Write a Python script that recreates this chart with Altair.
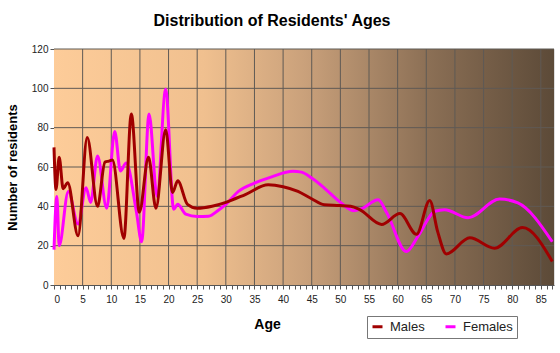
import altair as alt
import pandas as pd

# ---- data ----
male_age = [0, 0.35, 0.9, 1.6, 2.4, 4.2, 5.8, 7.6, 8.9, 9.6, 10.2, 12.2, 13.5, 14.9, 16.5, 17.8,
            19.5, 20.7, 21.6, 23.3, 25, 27.6, 30, 33.4, 37.4, 40, 42.6, 44.9, 47.2, 49.8, 51.8,
            53.3, 57.2, 60.4, 63.3, 65.6, 67, 68.5, 72.6, 76.9, 81.8, 87]
male_val = [70, 48.6, 65, 49, 52, 25, 75, 40, 62.5, 63, 63.5, 23.7, 87, 37, 65, 39,
            79, 47, 53, 41, 39, 40, 42, 46, 51, 50, 47.6, 44, 40.8, 40.4, 40,
            38.5, 30.8, 36.3, 25.8, 43, 27, 15.8, 24, 18.7, 29.2, 12]

female_age = [0, 0.5, 0.9, 2.5, 4.2, 5.6, 6.4, 7.6, 9.2, 10.6, 11.6, 12.6, 14.4, 15.3, 16.6, 18,
              19.5, 20.9, 21.6, 23, 25, 27, 28.7, 30, 32.2, 35, 38, 41.7, 43.2, 45, 47.2, 49.8,
              52.3, 53.5, 56.6, 58.1, 61.5, 63.6, 66.5, 68.2, 72.3, 77.8, 81, 87]
female_val = [18, 45, 20, 47.5, 31, 49.5, 42, 65.6, 39, 78, 58, 62, 37, 22, 87, 45,
              99.5, 38.5, 41, 36, 34.8, 35, 38, 41, 47.6, 51.8, 55, 57.8, 57.4, 54.4, 49.3, 42.5,
              37.8, 38.5, 43.3, 36.7, 17, 25, 37.5, 38.3, 34.2, 43.7, 41.7, 22]

series_names = ["Males", "Females"]
series_colors = ["#A00000", "#FF00FF"]
x_grid = [5, 10, 15, 20, 25, 30, 35, 40, 45, 50, 55, 60, 65, 70, 75, 80, 85]
y_grid = [20, 40, 60, 80, 100, 120]
x_ticks = list(range(0, 88))
y_ticks = [0, 20, 40, 60, 80, 100, 120]

males = pd.DataFrame({"age": male_age, "n": male_val, "s": "Males"})
females = pd.DataFrame({"age": female_age, "n": female_val, "s": "Females"})

xs = alt.Scale(domain=[0, 87.3], nice=False, zero=False)
ys = alt.Scale(domain=[0, 120], nice=False)
cs = alt.Scale(domain=series_names, range=series_colors)

grad = alt.Gradient(
    gradient="linear", x1=0, x2=1, y1=0, y2=0,
    stops=[
        alt.GradientStop(offset=0, color="#FDCC99"),
        alt.GradientStop(offset=0.3, color="#F0C08F"),
        alt.GradientStop(offset=0.5, color="#CAA17B"),
        alt.GradientStop(offset=0.75, color="#8B6F55"),
        alt.GradientStop(offset=1, color="#5C4A38"),
    ],
)

x_axis = alt.Axis(
    values=x_ticks, labelExpr="datum.value % 5 === 0 ? datum.label : ''",
    grid=False, tickSize=4, tickColor="#555", domainColor="#555",
    labelFontSize=10, labelColor="#222", labelFont="Liberation Sans", labelPadding=5,
    title="Age", titleFontSize=14, titleFontWeight="bold", titleFont="Liberation Sans",
    titleX=213, titleY=39, titleBaseline="middle", titleAlign="center", titleColor="#000",
)
y_axis = alt.Axis(
    values=y_ticks, grid=False, tickSize=4, tickColor="#555", domainColor="#555",
    labelFontSize=10, labelColor="#222", labelFont="Liberation Sans", labelPadding=2,
    title="Number of residents", titleFontSize=13, titleFontWeight="bold",
    titleFont="Liberation Sans", titleX=-42, titleY=118, titleAngle=-90,
    titleBaseline="middle", titleAlign="center", titleColor="#000",
)
legend = alt.Legend(
    title=None, orient="none", legendX=313, legendY=267, direction="horizontal",
    strokeColor="#777", fillColor="#FFFFFF", padding=4, symbolType="stroke",
    symbolStrokeWidth=3, symbolSize=100, labelFontSize=13, labelFont="Liberation Sans",
    labelColor="#222", columnPadding=14, labelOffset=6,
)

bg = alt.Chart(alt.Data(values=[{}])).mark_rect(fill=grad).encode(
    x=alt.value(0), x2=alt.value("width"), y=alt.value(0), y2=alt.value("height")
)

vgrid = alt.Chart(pd.DataFrame({"v": x_grid})).mark_rule(color="#5f5a55", strokeWidth=1).encode(
    x=alt.X("v:Q", scale=xs, axis=x_axis)
)
hgrid = alt.Chart(pd.DataFrame({"v": y_grid})).mark_rule(color="#5f5a55", strokeWidth=1).encode(
    y=alt.Y("v:Q", scale=ys, axis=y_axis)
)

fem_line = alt.Chart(females).mark_line(interpolate="monotone", strokeWidth=3).encode(
    x=alt.X("age:Q", scale=xs, axis=x_axis),
    y=alt.Y("n:Q", scale=ys, axis=y_axis),
    color=alt.Color("s:N", scale=cs, legend=legend),
)
male_line = alt.Chart(males).mark_line(interpolate="monotone", strokeWidth=3).encode(
    x=alt.X("age:Q", scale=xs, axis=x_axis),
    y=alt.Y("n:Q", scale=ys, axis=y_axis),
    color=alt.Color("s:N", scale=cs, legend=legend),
)

chart = alt.layer(bg, vgrid, hgrid, fem_line, male_line).properties(
    width=500, height=236,
    title=alt.TitleParams("Distribution of Residents' Ages", fontSize=16, fontWeight="bold",
                          font="Liberation Sans", anchor="middle", dx=-32, offset=2,
                          baseline="alphabetic", color="#000"),
    autosize=alt.AutoSizeParams(type="none"),
    padding={"left": 54, "top": 49, "right": 6, "bottom": 68},
).configure_view(stroke=None).configure(background="#FFFFFF")

chart.save("out.html", embed_options={"renderer": "svg", "actions": False})
